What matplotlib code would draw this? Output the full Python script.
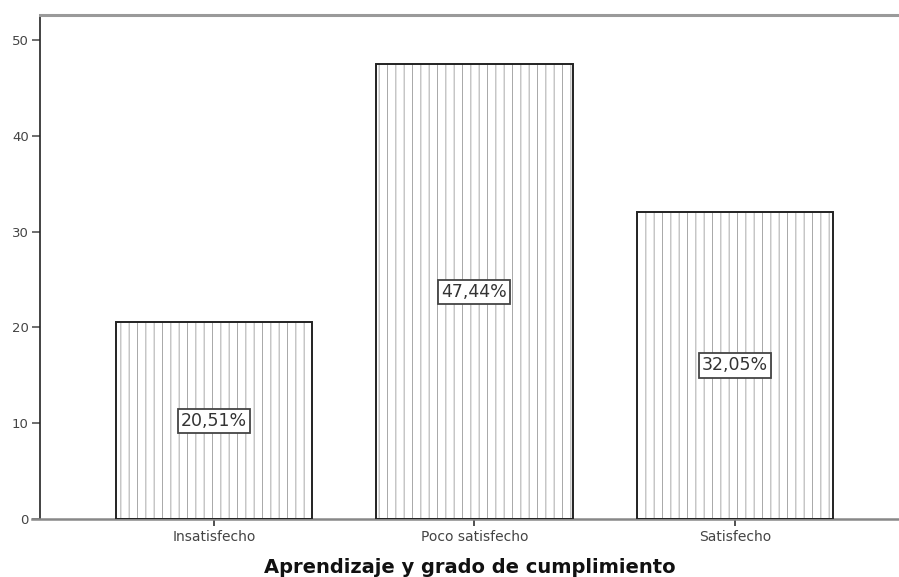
import matplotlib.pyplot as plt

plt.rcParams["font.family"] = ["DejaVu Sans"]
plt.rcParams["hatch.linewidth"] = 0.7

# data
categorias = ["Insatisfecho", "Poco satisfecho", "Satisfecho"]
porcentajes = [20.51, 47.44, 32.05]
etiquetas = ["20,51%", "47,44%", "32,05%"]
yticks = [0, 10, 20, 30, 40, 50]

fig = plt.figure(figsize=(8.99, 5.77), dpi=100)
ax = fig.add_axes([0.0445, 0.1005, 0.9555, 0.8735])

pos = range(len(categorias))
# hatched fill (dotted vertical lines look)
ax.bar(pos, porcentajes, width=0.755, color="white", edgecolor="#a8a8a8",
       linewidth=0, hatch="||", zorder=2)
# black outline
ax.bar(pos, porcentajes, width=0.755, fill=False, edgecolor="#222222",
       linewidth=1.4, zorder=3)

for x, v, t in zip(pos, porcentajes, etiquetas):
    ax.text(x, v / 2, t, ha="center", va="center", fontsize=12.5, color="#333333",
            zorder=4,
            bbox=dict(boxstyle="square,pad=0.18", fc="white", ec="#444444", lw=1.3))

ax.set_xlim(-0.668, 2.63)
ax.set_ylim(0, 52.6)
ax.set_yticks(yticks)
ax.set_xticks(list(pos))
ax.set_xticklabels(categorias)

ax.spines["right"].set_visible(False)
ax.spines["top"].set_color("#9a9a9a")
ax.spines["top"].set_linewidth(2.2)
ax.spines["left"].set_color("#222222")
ax.spines["left"].set_linewidth(1.2)
ax.spines["bottom"].set_color("#888888")
ax.spines["bottom"].set_linewidth(1.8)
ax.spines["bottom"].set_bounds(-0.7, 2.63)

ax.tick_params(axis="y", length=6, width=1.2, color="#555555", labelsize=9.5,
               labelcolor="#444444", pad=2)
ax.tick_params(axis="x", length=5, width=1.2, color="#333333", labelsize=10,
               labelcolor="#444444", pad=3)

ax.set_xlabel("Aprendizaje y grado de cumplimiento", fontweight="bold",
              fontsize=14, color="#111111", labelpad=10)

fig.savefig("out.png", dpi=100)
